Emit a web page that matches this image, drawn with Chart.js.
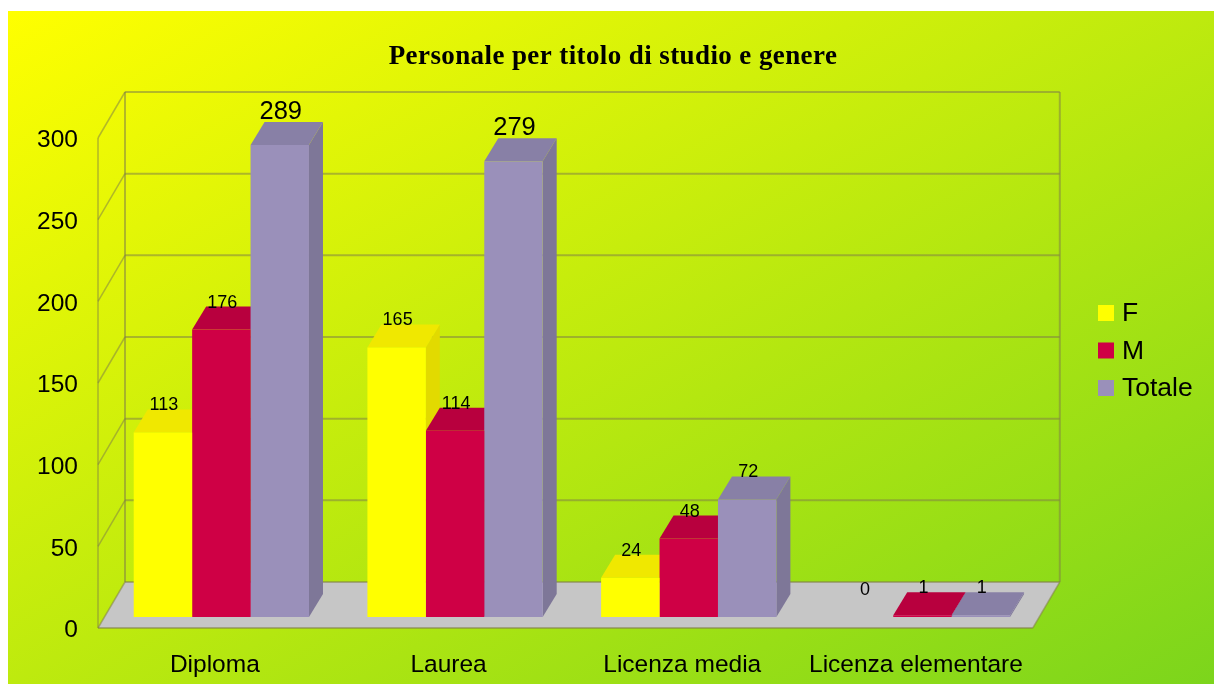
<!DOCTYPE html>
<html>
<head>
<meta charset="utf-8">
<title>Personale per titolo di studio e genere</title>
<script src="https://cdn.jsdelivr.net/npm/chart.js@4"></script>
<style>
    body { margin: 0; background: #fff; overflow: hidden; }
    #sfondo {
        position: absolute; left: 8px; top: 11px; width: 1206px; height: 673px;
        background: linear-gradient(to bottom right, #ffff00 0%, #7cd51c 100%);
    }
    #chartPersonale { position: absolute; left: 0; top: 0; }
</style>
</head>
<body>
<div id="sfondo"></div>
<canvas id="chartPersonale" width="1214" height="684"></canvas>
<script>
const titolo = "Personale per titolo di studio e genere";
const categorie = ["Diploma", "Laurea", "Licenza media", "Licenza elementare"];
const valoriF = [113, 165, 24, 0];
const valoriM = [176, 114, 48, 1];
const valoriTotale = [289, 279, 72, 1];
const tickY = [0, 50, 100, 150, 200, 250, 300];

const coloriFronte = ["#ffff00", "#cf0045", "#9a90ba"];
const coloriTop = ["#f0e800", "#b8003e", "#8880a6"];
const coloriLato = ["#e2da00", "#a80038", "#7e7798"];
const coloreGriglia = "rgba(130,130,70,0.55)";

// 3d offsets, relative to the plane of the bars
const barraDx = 14, barraDy = 23;
const pianoFronteDx = -6.5, pianoFronteDy = 11;
const pianoFondoDx = 20.5, pianoFondoDy = 35;

function poligono(ctx, punti, fill) {
    ctx.beginPath();
    punti.forEach((p, i) => i ? ctx.lineTo(p[0], p[1]) : ctx.moveTo(p[0], p[1]));
    ctx.closePath();
    ctx.fillStyle = fill;
    ctx.fill();
}

function linea(ctx, x1, y1, x2, y2, lw) {
    ctx.beginPath();
    ctx.moveTo(x1, y1);
    ctx.lineTo(x2, y2);
    ctx.lineWidth = lw;
    ctx.strokeStyle = coloreGriglia;
    ctx.stroke();
}

const finto3d = {
    id: "finto3d",
    beforeDatasetsDraw(chart) {
        const ctx = chart.ctx;
        const { left, right } = chart.chartArea;
        const y = chart.scales.y;
        const y0 = y.getPixelForValue(0);
        const xF = left + pianoFronteDx, xFR = right + pianoFronteDx;
        const xB = left + pianoFondoDx, xBR = right + pianoFondoDx;
        ctx.save();

        // pavimento
        poligono(ctx, [[xF, y0 + pianoFronteDy], [xB, y0 - pianoFondoDy], [xBR, y0 - pianoFondoDy], [xFR, y0 + pianoFronteDy]], "#c6c6c6");

        // griglia: parete di fondo e parete sinistra
        tickY.forEach(v => {
            const py = y.getPixelForValue(v);
            linea(ctx, xB, py - pianoFondoDy, xBR, py - pianoFondoDy, 2);
            linea(ctx, xF, py + pianoFronteDy, xB, py - pianoFondoDy, 1.5);
        });
        const yTop = y.getPixelForValue(tickY[tickY.length - 1]);
        linea(ctx, xF, yTop + pianoFronteDy, xF, y0 + pianoFronteDy, 1.5);
        linea(ctx, xB, yTop - pianoFondoDy, xB, y0 - pianoFondoDy, 2);
        linea(ctx, xBR, yTop - pianoFondoDy, xBR, y0 - pianoFondoDy, 2);
        linea(ctx, xF, y0 + pianoFronteDy, xFR, y0 + pianoFronteDy, 2);
        linea(ctx, xFR, y0 + pianoFronteDy, xBR, y0 - pianoFondoDy, 1.5);

        // lati e tetti delle barre, serie per serie
        chart.data.datasets.forEach((ds, i) => {
            chart.getDatasetMeta(i).data.forEach((bar, j) => {
                if (!ds.data[j]) return;
                const x1 = bar.x - bar.width / 2, x2 = bar.x + bar.width / 2;
                poligono(ctx, [[x2, bar.y], [x2 + barraDx, bar.y - barraDy], [x2 + barraDx, bar.base - barraDy], [x2, bar.base]], coloriLato[i]);
                poligono(ctx, [[x1, bar.y], [x1 + barraDx, bar.y - barraDy], [x2 + barraDx, bar.y - barraDy], [x2, bar.y]], coloriTop[i]);
            });
        });
        ctx.restore();
    },
    afterDatasetsDraw(chart) {
        const ctx = chart.ctx;
        ctx.save();
        ctx.fillStyle = "#000";
        ctx.textAlign = "center";
        ctx.textBaseline = "middle";

        // etichette dei valori
        chart.data.datasets.forEach((ds, i) => {
            chart.getDatasetMeta(i).data.forEach((bar, j) => {
                const grande = ds.data[j] > 200;
                ctx.font = (grande ? 25.5 : 18) + "px 'Liberation Sans'";
                ctx.fillText(ds.data[j], bar.x + 1, bar.y - (grande ? 33 : 27));
            });
        });

        // titolo
        ctx.font = "bold 27px 'Liberation Serif'";
        ctx.letterSpacing = "0.4px";
        ctx.fillText(titolo, 613, 57.5);
        ctx.letterSpacing = "0px";

        // legenda
        ctx.textAlign = "left";
        ctx.font = "26.5px 'Liberation Sans'";
        chart.data.datasets.forEach((ds, i) => {
            const ly = 313 + i * 37.5;
            ctx.fillStyle = coloriFronte[i];
            ctx.fillRect(1098, ly - 8, 16, 16);
            ctx.fillStyle = "#000";
            ctx.fillText(ds.label, 1122, ly + 1);
        });
        ctx.restore();
    }
};

new Chart(document.getElementById("chartPersonale"), {
    type: "bar",
    data: {
        labels: categorie,
        datasets: [
            { label: "F", data: valoriF, backgroundColor: coloriFronte[0] },
            { label: "M", data: valoriM, backgroundColor: coloriFronte[1] },
            { label: "Totale", data: valoriTotale, backgroundColor: coloriFronte[2] }
        ]
    },
    options: {
        responsive: false,
        animation: false,
        layout: { padding: { top: 127, right: 174.7, left: 0, bottom: 0 } },
        datasets: { bar: { categoryPercentage: 0.75, barPercentage: 1 } },
        plugins: { legend: { display: false }, title: { display: false }, tooltip: { enabled: false } },
        scales: {
            x: {
                grid: { display: false, drawTicks: false },
                border: { display: false },
                afterFit(scale) { scale.height = 67; },
                ticks: {
                    color: "#000",
                    font: { family: "'Liberation Sans'", size: 24.5 },
                    padding: 34,
                    labelOffset: -6.5,
                    autoSkip: false,
                    maxRotation: 0
                }
            },
            y: {
                min: 0,
                max: 300,
                grid: { display: false, drawTicks: false },
                border: { display: false },
                afterFit(scale) { scale.width = 104.5; },
                afterBuildTicks(scale) { scale.ticks = tickY.map(v => ({ value: v })); },
                ticks: {
                    color: "#000",
                    font: { family: "'Liberation Sans'", size: 24.5 },
                    padding: 26.5,
                    labelOffset: 13.5
                }
            }
        }
    },
    plugins: [finto3d]
});
</script>
</body>
</html>
